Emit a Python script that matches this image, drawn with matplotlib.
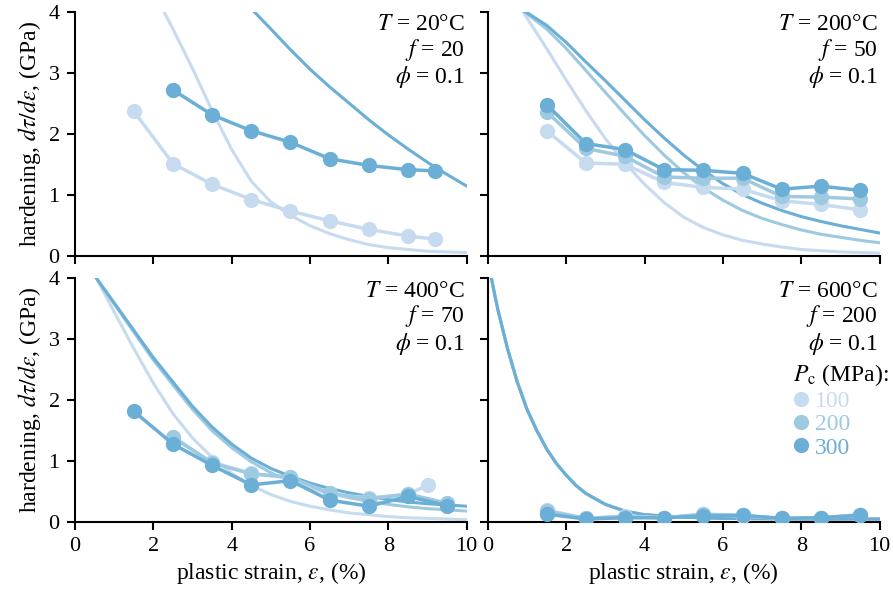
import numpy as np
import matplotlib
matplotlib.use('Agg')
import matplotlib.pyplot as plt
from matplotlib.lines import Line2D

plt.rcParams['font.family'] = ['Liberation Serif', 'DejaVu Serif']
plt.rcParams['mathtext.fontset'] = 'stix'
plt.rcParams['font.size'] = 16

c100 = '#c6dbef'
c200 = '#9ecae1'
c300 = '#6baed6'

pressures = ['100', '200', '300']
colors = [c100, c200, c300]

# ---- measured points ----
strain = [1.5, 2.5, 3.5, 4.5, 5.5, 6.5, 7.5, 8.5, 9.5]

# T = 20C
x20_100 = [1.5, 2.5, 3.5, 4.5, 5.5, 6.5, 7.5, 8.5, 9.2]
y20_100 = [2.37, 1.51, 1.17, 0.92, 0.73, 0.57, 0.43, 0.32, 0.27]
x20_300 = [2.5, 3.5, 4.5, 5.5, 6.5, 7.5, 8.5, 9.2]
y20_300 = [2.72, 2.31, 2.05, 1.86, 1.59, 1.48, 1.41, 1.39]

# T = 200C
y200_100 = [2.05, 1.52, 1.50, 1.20, 1.12, 1.09, 0.90, 0.84, 0.75]
y200_200 = [2.36, 1.76, 1.63, 1.29, 1.27, 1.27, 0.97, 0.96, 0.93]
y200_300 = [2.48, 1.84, 1.74, 1.41, 1.40, 1.35, 1.09, 1.14, 1.07]

# T = 400C
x400_100 = [2.5, 3.5, 4.5, 5.5, 6.5, 7.5, 8.5, 9.0]
y400_100 = [1.38, 0.98, 0.80, 0.72, 0.45, 0.40, 0.45, 0.61]
x400_200 = [2.5, 3.5, 4.5, 5.5, 6.5, 7.5, 8.5, 9.5]
y400_200 = [1.40, 0.97, 0.79, 0.74, 0.47, 0.38, 0.46, 0.31]
x400_300 = [1.5, 2.5, 3.5, 4.5, 5.5, 6.5, 7.5, 8.5, 9.5]
y400_300 = [1.82, 1.28, 0.93, 0.61, 0.68, 0.36, 0.26, 0.42, 0.27]

# T = 600C
y600_100 = [0.20, 0.06, 0.10, 0.07, 0.12, 0.10, 0.06, 0.07, 0.12]
y600_200 = [0.18, 0.06, 0.09, 0.07, 0.13, 0.11, 0.06, 0.07, 0.12]
y600_300 = [0.13, 0.05, 0.07, 0.07, 0.10, 0.11, 0.06, 0.07, 0.11]

# ---- model curves ----
m20_100_x = [2.1, 2.25, 2.5, 3.0, 3.5, 4.0, 4.5, 5.0, 5.5, 6.0, 6.5, 7.0, 7.5, 8.0, 8.5, 9.0, 9.5, 10.0]
m20_100_y = [4.2, 4.03, 3.72, 3.07, 2.38, 1.74, 1.22, 0.88, 0.66, 0.49, 0.36, 0.26, 0.18, 0.13, 0.10, 0.07, 0.06, 0.05]
m20_300_x = [4.4, 4.58, 5.0, 5.5, 6.0, 6.5, 7.0, 7.5, 8.0, 8.5, 9.0, 9.5, 10.0]
m20_300_y = [4.15, 4.0, 3.72, 3.38, 3.06, 2.77, 2.5, 2.23, 1.98, 1.75, 1.53, 1.33, 1.14]

m200_x = [0.6, 0.9, 1.5, 2.0, 2.5, 3.0, 3.5, 4.0, 4.5, 5.0, 5.5, 6.0, 6.5, 7.0, 7.5, 8.0, 8.5, 9.0, 9.5, 10.0]
m200_100 = [4.25, 4.0, 3.4, 2.88, 2.38, 1.92, 1.52, 1.17, 0.87, 0.63, 0.46, 0.34, 0.25, 0.19, 0.14, 0.10, 0.08, 0.06, 0.05, 0.04]
m200_200 = [4.2, 4.02, 3.72, 3.4, 3.04, 2.68, 2.32, 1.97, 1.65, 1.36, 1.11, 0.91, 0.74, 0.61, 0.51, 0.42, 0.35, 0.30, 0.25, 0.21]
m200_300 = [4.2, 4.03, 3.78, 3.5, 3.18, 2.87, 2.55, 2.23, 1.93, 1.65, 1.40, 1.18, 1.0, 0.86, 0.74, 0.64, 0.56, 0.49, 0.43, 0.37]

m400_x = [0.4, 0.55, 1.0, 1.5, 2.0, 2.5, 3.0, 3.5, 4.0, 4.5, 5.0, 5.5, 6.0, 6.5, 7.0, 7.5, 8.0, 8.5, 9.0, 9.5, 10.0]
m400_100 = [4.2, 4.0, 3.45, 2.85, 2.28, 1.78, 1.38, 1.06, 0.80, 0.60, 0.45, 0.34, 0.26, 0.20, 0.15, 0.12, 0.09, 0.07, 0.06, 0.05, 0.04]
m400_200 = [4.2, 4.0, 3.58, 3.12, 2.66, 2.25, 1.85, 1.50, 1.22, 0.99, 0.81, 0.67, 0.56, 0.47, 0.40, 0.34, 0.29, 0.25, 0.22, 0.20, 0.18]
m400_300 = [4.2, 4.0, 3.6, 3.15, 2.70, 2.30, 1.90, 1.56, 1.28, 1.05, 0.88, 0.75, 0.64, 0.55, 0.48, 0.42, 0.37, 0.33, 0.30, 0.28, 0.26]

m600_x = [0.05, 0.09, 0.25, 0.5, 0.75, 1.0, 1.25, 1.5, 1.75, 2.0, 2.25, 2.5, 3.0, 3.5, 4.0, 5.0, 6.0, 8.0, 10.0]
m600_y = [4.3, 4.0, 3.5, 2.85, 2.3, 1.85, 1.5, 1.2, 0.96, 0.77, 0.6, 0.47, 0.29, 0.18, 0.12, 0.08, 0.06, 0.05, 0.05]

fig, axes = plt.subplots(2, 2, figsize=(8.93, 5.98), dpi=100)
plt.subplots_adjust(left=0.084, right=0.985, top=0.98, bottom=0.127, wspace=0.054, hspace=0.094)

lw_model = 2.2
lw_data = 2.5
ms = 11


def pts(ax, x, y, c):
    ax.plot(x, y, '-o', color=c, lw=lw_data, ms=ms, mec='none', zorder=3)


def model(ax, x, y, c):
    ax.plot(x, y, '-', color=c, lw=lw_model, zorder=2, solid_capstyle='round',
            solid_joinstyle='round')


ax = axes[0, 0]
model(ax, m20_100_x, m20_100_y, c100)
model(ax, m20_300_x, m20_300_y, c300)
pts(ax, x20_100, y20_100, c100)
pts(ax, x20_300, y20_300, c300)

ax = axes[0, 1]
for m, c in zip([m200_100, m200_200, m200_300], colors):
    model(ax, m200_x, m, c)
for y, c in zip([y200_100, y200_200, y200_300], colors):
    pts(ax, strain, y, c)

ax = axes[1, 0]
for m, c in zip([m400_100, m400_200, m400_300], colors):
    model(ax, m400_x, m, c)
pts(ax, x400_100, y400_100, c100)
pts(ax, x400_200, y400_200, c200)
pts(ax, x400_300, y400_300, c300)

ax = axes[1, 1]
for c in colors:
    model(ax, m600_x, m600_y, c)
for y, c in zip([y600_100, y600_200, y600_300], colors):
    pts(ax, strain, y, c)

labels = [r'$T$ = 20°C' + '\n' + r'$f$ = 20' + '\n' + r'$\phi$ = 0.1',
          r'$T$ = 200°C' + '\n' + r'$f$ = 50' + '\n' + r'$\phi$ = 0.1',
          r'$T$ = 400°C' + '\n' + r'$f$ = 70' + '\n' + r'$\phi$ = 0.1',
          r'$T$ = 600°C' + '\n' + r'$f$ = 200' + '\n' + r'$\phi$ = 0.1']

for i, ax in enumerate(axes.flat):
    ax.set_xlim(0, 10)
    ax.set_ylim(0, 4)
    ax.set_xticks([0, 2, 4, 6, 8, 10])
    ax.set_yticks([0, 1, 2, 3, 4])
    ax.spines['top'].set_visible(False)
    ax.spines['right'].set_visible(False)
    ax.spines['left'].set_linewidth(1.5)
    ax.spines['bottom'].set_linewidth(1.5)
    ax.tick_params(direction='out', length=6, width=1.5, labelsize=16, pad=5)
    ax.text(0.995, 0.99, labels[i], transform=ax.transAxes, ha='right', va='top',
            fontsize=17, linespacing=1.08)

for ax in axes[0]:
    ax.tick_params(labelbottom=False)
for ax in axes[:, 1]:
    ax.tick_params(labelleft=False)
for ax in axes[:, 0]:
    ax.set_ylabel(r'hardening, $d\tau/d\epsilon$, (GPa)', fontsize=17, labelpad=4)
for ax in axes[1]:
    ax.set_xlabel(r'plastic strain, $\epsilon$, (%)', fontsize=17, labelpad=3)

handles = [Line2D([], [], ls='none', marker='o', color=c, ms=ms, mec='none') for c in colors]
leg = axes[1, 1].legend(handles, pressures, title=r'$P_\mathrm{c}$ (MPa):', loc='upper left',
                        bbox_to_anchor=(0.78, 0.655), frameon=False, fontsize=17,
                        title_fontsize=17, handlelength=0.6, handletextpad=0.3,
                        labelspacing=0.08, borderpad=0, borderaxespad=0,
                        labelcolor='markerfacecolor', alignment='left')

plt.savefig('out.png', dpi=100)
